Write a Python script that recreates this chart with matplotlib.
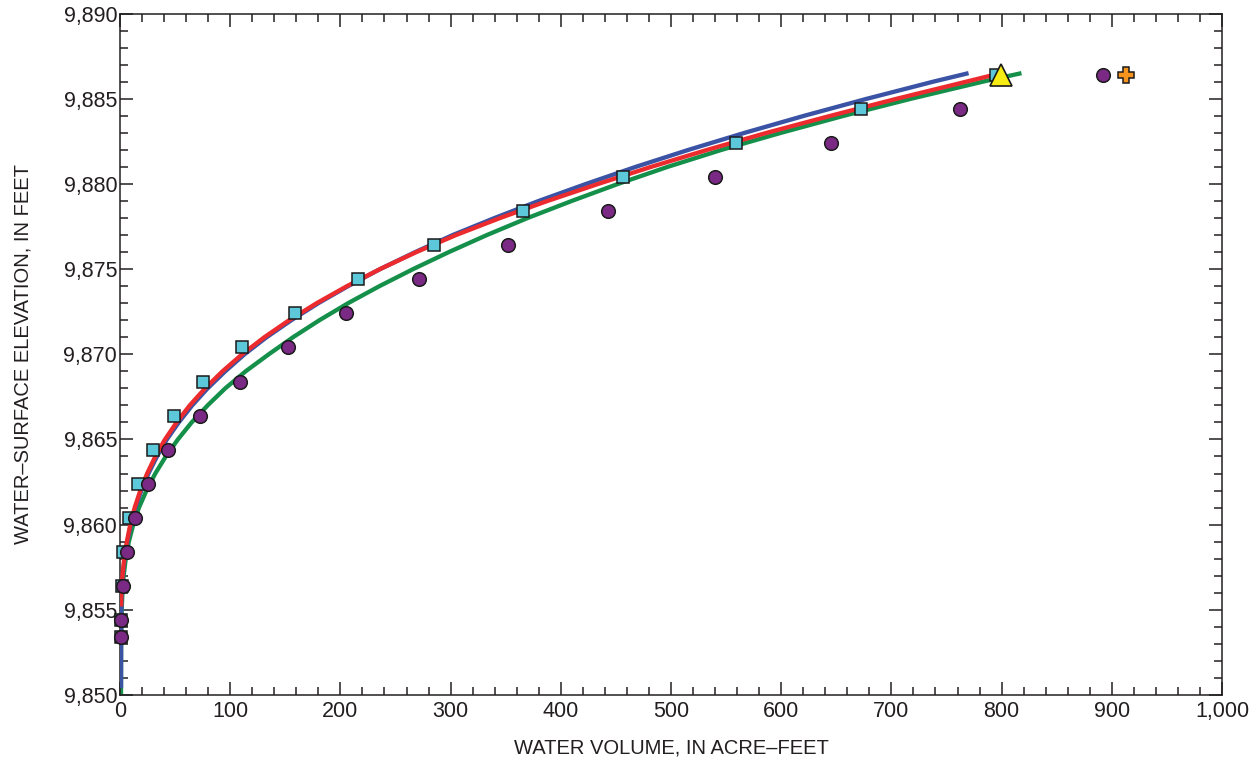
import matplotlib
matplotlib.use("Agg")
import matplotlib.pyplot as plt
from matplotlib.ticker import MultipleLocator, FuncFormatter

plt.rcParams['font.family'] = ['Liberation Sans', 'DejaVu Sans']

# ---- data (volume in acre-feet, elevation in feet) ----
sq_elev = [9853.4, 9854.4, 9856.4, 9858.4, 9860.4, 9862.4, 9864.4, 9866.4, 9868.4,
           9870.4, 9872.4, 9874.4, 9876.4, 9878.4, 9880.4, 9882.4, 9884.4, 9886.4]
sq_vol = [0.6, 1.3, 1.6, 3.0, 8.3, 16.2, 30, 49, 75.5,
          111, 158.5, 216, 285, 365.5, 456.5, 559, 672.5, 795]

ci_elev = [9853.4, 9854.4, 9856.4, 9858.4, 9860.4, 9862.4, 9864.4, 9866.4, 9868.4,
           9870.4, 9872.4, 9874.4, 9876.4, 9878.4, 9880.4, 9882.4, 9884.4, 9886.4]
ci_vol = [0.6, 0.8, 2.6, 6.0, 13.6, 25.5, 43.9, 72.6, 109,
          152, 205, 271, 352, 442.5, 540, 645, 762, 892]

tri_vol = [799.5]
tri_elev = [9886.4]
plus_vol = [913]
plus_elev = [9886.4]

red_elev = [9855.2, 9856, 9857, 9858, 9859, 9860, 9861, 9862, 9863, 9864, 9865,
            9866, 9867, 9868, 9869, 9870, 9871, 9872, 9873, 9874, 9875, 9876,
            9877, 9878, 9879, 9880, 9881, 9882, 9883, 9884, 9885, 9886, 9886.4]
red_vol = [1.0, 1.2, 2.2, 3.8, 6.2, 9.3, 13.3, 18.4, 24.6, 32.0, 40.8,
           51.3, 63.3, 77.2, 93, 110.8, 131, 153.5, 178.5, 206, 236, 269,
           305, 345, 388, 434, 482, 533, 587, 645, 705, 768, 793]

blue_elev = [9850.4, 9853, 9855.2, 9856, 9857, 9858, 9859, 9860, 9861, 9862, 9863,
             9864, 9865, 9866, 9867, 9868, 9869, 9870, 9871, 9872, 9873, 9874,
             9875, 9876, 9877, 9878, 9879, 9880, 9881, 9882, 9883, 9884, 9885,
             9886, 9886.5]
blue_vol = [0.9, 1.0, 1.2, 1.5, 2.5, 4.1, 6.6, 9.8, 14, 19.3, 25.8,
            33.5, 42.5, 53.3, 65.5, 79.5, 95.5, 113, 133, 155.5, 180, 207,
            236, 268, 302, 340, 380, 423, 468, 516, 567, 621, 678,
            738, 770]

green_elev = [9850, 9853, 9855, 9856, 9857, 9858, 9859, 9860, 9861, 9862, 9863,
              9864, 9865, 9866, 9867, 9868, 9869, 9870, 9871, 9872, 9873, 9874,
              9875, 9876, 9877, 9878, 9879, 9880, 9881, 9882, 9883, 9884, 9885,
              9886, 9886.5]
green_vol = [0.9, 1.0, 1.5, 2.2, 3.3, 5.2, 8.0, 12.0, 17.2, 24.0, 32.0,
             41.5, 52.5, 65.0, 79.5, 95.5, 114, 135, 157, 181, 207, 235.5,
             266, 298.5, 333, 370, 410, 452, 497, 546, 600, 657, 718,
             783, 818]

x_ticks = list(range(0, 1001, 100))
y_ticks = list(range(9850, 9891, 5))

# ---- figure ----
fig = plt.figure(figsize=(12.58, 7.63), dpi=100)
ax = fig.add_axes([0.0954, 0.0891, 0.8760, 0.8932])

lw = 3.1
ax.plot(green_vol, green_elev, color='#15904A', lw=lw, solid_capstyle='butt',
        solid_joinstyle='round', zorder=2)
ax.plot(blue_vol, blue_elev, color='#3B53A4', lw=lw, solid_capstyle='butt',
        solid_joinstyle='round', zorder=3)
ax.plot(red_vol, red_elev, color='#EC2B2E', lw=lw, solid_capstyle='butt',
        solid_joinstyle='round', zorder=4)

ax.plot(sq_vol, sq_elev, ls='none', marker='s', ms=8.6, mfc='#5EC8DB', mec='#1a1a1a',
        mew=1.1, zorder=5, clip_on=False)
ax.plot(ci_vol, ci_elev, ls='none', marker='o', ms=9.8, mfc='#7A2A84', mec='#1a1a1a',
        mew=1.1, zorder=6, clip_on=False)
ax.plot(tri_vol, tri_elev, ls='none', marker='^', ms=16, mfc='#F7EC13', mec='#1a1a1a',
        mew=1.2, zorder=7)
ax.plot(plus_vol, plus_elev, ls='none', marker='P', ms=12, mfc='#F7941D', mec='#1a1a1a',
        mew=1.1, zorder=7)

ax.set_xlim(0, 1000)
ax.set_ylim(9850, 9890)
ax.set_xticks(x_ticks)
ax.set_yticks(y_ticks)
ax.xaxis.set_minor_locator(MultipleLocator(20))
ax.yaxis.set_minor_locator(MultipleLocator(1))
ax.xaxis.set_major_formatter(FuncFormatter(lambda v, p: f"{int(round(v)):,}"))
ax.yaxis.set_major_formatter(FuncFormatter(lambda v, p: f"{int(round(v)):,}"))

ax.tick_params(which='both', direction='in', top=True, right=True, width=1.1,
               color='#231f20', labelsize=15.5, labelcolor='#231f20')
ax.tick_params(which='major', length=9.5)
ax.tick_params(which='minor', length=6)
ax.tick_params(axis='y', pad=2)
ax.tick_params(axis='x', pad=4)

for s in ax.spines.values():
    s.set_linewidth(1.1)
    s.set_color('#231f20')

ax.set_xlabel('WATER VOLUME, IN ACRE–FEET', fontsize=14.5, labelpad=12, color='#231f20')
ax.set_ylabel('WATER–SURFACE ELEVATION, IN FEET', fontsize=14.5, labelpad=22, color='#231f20')

fig.savefig('out.png', dpi=100)
